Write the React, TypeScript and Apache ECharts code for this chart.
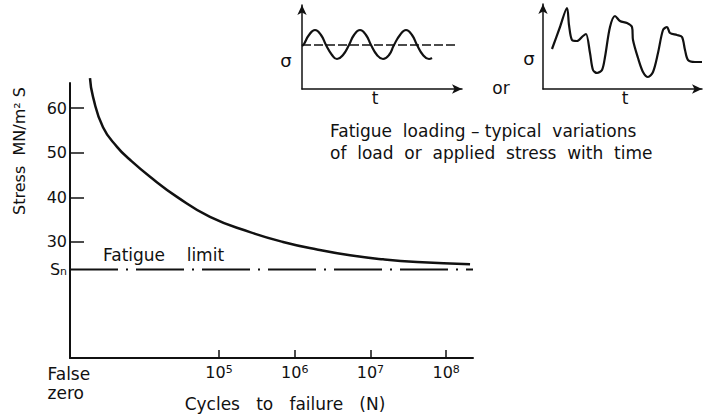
import React, { useEffect, useRef } from "react";
import * as echarts from "echarts";

// Main S-N curve: cycles to failure as log10 exponent, stress in MN/m^2
const CYCLE_EXP = [3.296, 3.336, 3.468, 3.653, 3.825, 4.089, 4.445, 4.881, 5.41, 5.846, 6.295, 6.731, 7.167, 7.616, 8.316];
const STRESS = [66.7, 62.5, 55.7, 51.3, 48.4, 44.6, 40.1, 35.6, 32.2, 30.0, 28.3, 27.0, 26.1, 25.5, 25.0];
const FATIGUE_LIMIT = 23.85;
const X_MIN = 3.032; // "false zero"
const X_MAX = 8.355;
const Y_MIN = 4;
const Y_MAX = 65.6;
const X_TICKS = [5, 6, 7, 8];
const Y_TICKS = [30, 40, 50, 60];

// Inset 1: sinusoidal loading (t, sigma)
const SINE_T = [0, 2, 7, 13, 19, 24, 30, 35, 41, 47, 52, 58, 64, 69, 75, 81, 87, 92, 98, 104, 110, 115, 121, 127, 130];
const SINE_S = [43, 45, 54, 59, 54, 44, 34, 30, 34, 44, 54, 59, 54, 44, 34, 30, 34, 44, 54, 59, 54, 44, 34, 30, 31];
const SINE_MEAN_T = [0, 153];
const SINE_MEAN_S = [44, 44];

// Inset 2: random loading (t, sigma)
const RAND_T = [9, 17, 24, 26, 29, 34, 40, 43, 47, 50, 54, 59, 62, 67, 72, 77, 84, 89, 90, 95, 100, 105, 110, 115, 120, 124, 127, 134, 139, 142, 145, 152, 159];
const RAND_S = [40, 62, 81, 64, 49, 48, 53, 55, 36, 19, 16, 19, 32, 62, 73, 68, 66, 62, 49, 31, 17, 12, 17, 36, 59, 62, 56, 54, 52, 39, 29, 27, 27];

const FONT = "DejaVu Sans";
const INK = "#111";

function zip(a: number[], b: number[]) {
  return a.map((v, i) => [v, b[i]]);
}

export default function App() {
  const ref = useRef<HTMLDivElement>(null);
  useEffect(() => {
    if (!ref.current) return;
    const chart = echarts.init(ref.current, null, { renderer: "svg" });
    const txt = (text: string, x: number, y: number, extra: any = {}) => ({
      type: "text",
      x,
      y,
      silent: true,
      ...extra,
      style: {
        text,
        font: `17px ${FONT}`,
        fill: INK,
        align: "left",
        verticalAlign: "middle",
        ...(extra.style || {}),
      },
    });
    const insetAxisLine = {
      show: true,
      symbol: ["none", "arrow"],
      symbolSize: [7, 10],
      lineStyle: { color: INK, width: 1.5 },
    };
    const option: any = {
      animation: false,
      backgroundColor: "#fff",
      textStyle: { fontFamily: FONT, color: INK },
      grid: [
        { left: 70, top: 83, width: 403, height: 275 },
        { left: 302, top: 5, width: 160, height: 84 },
        { left: 543, top: 4, width: 159, height: 85 },
      ],
      xAxis: [
        {
          type: "value",
          gridIndex: 0,
          min: X_MIN,
          max: X_MAX,
          splitLine: { show: false },
          axisLine: { show: true, lineStyle: { color: INK, width: 2 } },
          axisTick: {
            show: true,
            inside: true,
            length: 8,
            customValues: X_TICKS,
            lineStyle: { color: INK, width: 1.5 },
          },
          axisLabel: {
            show: true,
            margin: 6,
            customValues: [X_MIN, ...X_TICKS],
            color: INK,
            fontSize: 16,
            fontFamily: FONT,
            lineHeight: 17,
            formatter: (v: number) =>
              Math.abs(v - X_MIN) < 0.001 ? "{fz|False}\n{fz|zero}" : `10{sup|${Math.round(v)}}`,
            rich: {
              fz: { width: 45, align: "left", fontSize: 17, lineHeight: 19, fontFamily: FONT, color: INK },
              sup: { fontSize: 11, lineHeight: 11, verticalAlign: "top", padding: [0, 0, 6, 0], fontFamily: FONT, color: INK },
            },
          },
        },
        {
          type: "value",
          gridIndex: 1,
          min: 0,
          max: 160,
          splitLine: { show: false },
          axisTick: { show: false },
          axisLabel: { show: false },
          axisLine: insetAxisLine,
        },
        {
          type: "value",
          gridIndex: 2,
          min: 0,
          max: 159,
          splitLine: { show: false },
          axisTick: { show: false },
          axisLabel: { show: false },
          axisLine: insetAxisLine,
        },
      ],
      yAxis: [
        {
          type: "value",
          gridIndex: 0,
          min: Y_MIN,
          max: Y_MAX,
          splitLine: { show: false },
          axisLine: { show: true, lineStyle: { color: INK, width: 2 } },
          axisTick: {
            show: true,
            inside: true,
            length: 14,
            customValues: Y_TICKS,
            lineStyle: { color: INK, width: 1.5 },
          },
          axisLabel: {
            show: true,
            margin: 3,
            customValues: [FATIGUE_LIMIT, ...Y_TICKS],
            color: INK,
            fontSize: 16,
            fontFamily: FONT,
            formatter: (v: number) => (Math.abs(v - FATIGUE_LIMIT) < 0.01 ? "S{sub|n}" : String(v)),
            rich: {
              sub: { fontSize: 11, lineHeight: 11, verticalAlign: "bottom", padding: [7, 0, 0, 0], fontFamily: FONT, color: INK },
            },
          },
        },
        {
          type: "value",
          gridIndex: 1,
          min: 0,
          max: 84,
          splitLine: { show: false },
          axisTick: { show: false },
          axisLabel: { show: false },
          axisLine: insetAxisLine,
        },
        {
          type: "value",
          gridIndex: 2,
          min: 0,
          max: 85,
          splitLine: { show: false },
          axisTick: { show: false },
          axisLabel: { show: false },
          axisLine: insetAxisLine,
        },
      ],
      series: [
        {
          type: "line",
          xAxisIndex: 0,
          yAxisIndex: 0,
          data: zip(CYCLE_EXP, STRESS),
          smooth: 0.5,
          showSymbol: false,
          clip: false,
          lineStyle: { color: INK, width: 2.5 },
        },
        {
          type: "line",
          xAxisIndex: 0,
          yAxisIndex: 0,
          data: [
            [X_MIN, FATIGUE_LIMIT],
            [X_MAX, FATIGUE_LIMIT],
          ],
          showSymbol: false,
          lineStyle: { color: INK, width: 2, type: [48, 8, 2, 8] },
        },
        {
          type: "line",
          xAxisIndex: 1,
          yAxisIndex: 1,
          data: zip(SINE_T, SINE_S),
          smooth: true,
          showSymbol: false,
          lineStyle: { color: INK, width: 2.2 },
        },
        {
          type: "line",
          xAxisIndex: 1,
          yAxisIndex: 1,
          data: zip(SINE_MEAN_T, SINE_MEAN_S),
          showSymbol: false,
          lineStyle: { color: INK, width: 1.3, type: [9, 3] },
        },
        {
          type: "line",
          xAxisIndex: 2,
          yAxisIndex: 2,
          data: zip(RAND_T, RAND_S),
          smooth: 0.3,
          showSymbol: false,
          lineStyle: { color: INK, width: 2.2 },
        },
      ],
      graphic: [
        txt("Stress  MN/m² S", 19, 151, { rotation: Math.PI / 2, style: { align: "center", font: `16px ${FONT}` } }),
        txt("Fatigue    limit", 103, 255),
        txt("Cycles   to   failure   (N)", 285, 404, { style: { align: "center" } }),
        txt("Fatigue  loading – typical  variations", 330, 131),
        txt("of  load  or  applied  stress  with  time", 330, 153),
        txt("σ", 286, 60, { style: { align: "center", font: `18px ${FONT}` } }),
        txt("t", 375, 98, { style: { align: "center" } }),
        txt("σ", 529, 58, { style: { align: "center", font: `18px ${FONT}` } }),
        txt("t", 625, 98, { style: { align: "center" } }),
        txt("or", 501, 88, { style: { align: "center" } }),
      ],
    };
    chart.setOption(option);
    return () => chart.dispose();
  }, []);
  return (
    <div
      ref={ref}
      style={{ position: "fixed", left: 0, top: 0, width: 703, height: 417, background: "#fff" }}
    />
  );
}
